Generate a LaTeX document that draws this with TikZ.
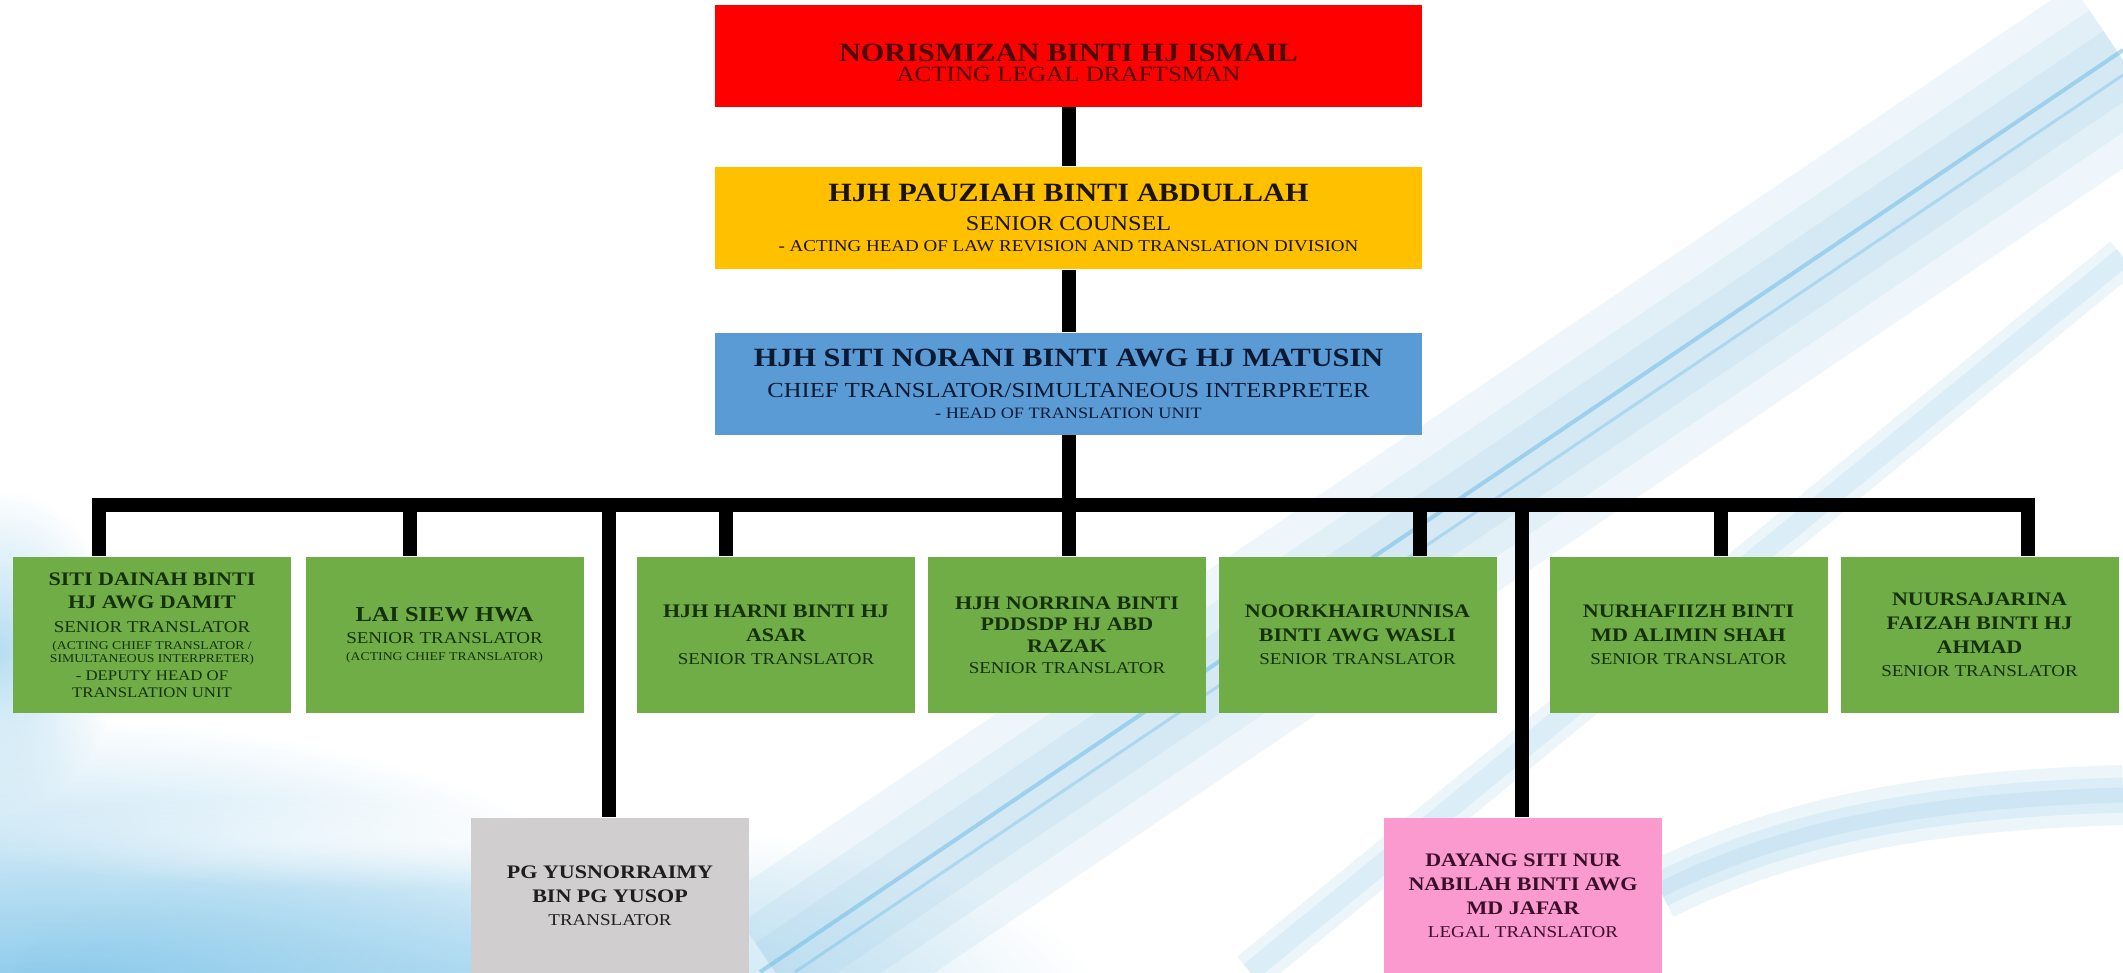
\documentclass[tikz,border=0pt]{standalone}
\usepackage{fontspec}
\setmainfont[FakeStretch=1.15]{Liberation Serif}
\usetikzlibrary{calc,fadings}
\definecolor{draftred}{HTML}{FF0000}
\definecolor{counselorange}{HTML}{FFC000}
\definecolor{chiefblue}{HTML}{5B9BD5}
\definecolor{seniorgreen}{HTML}{70AD47}
\definecolor{transgrey}{HTML}{D0CECE}
\definecolor{legalpink}{HTML}{FB9ACF}
\definecolor{redtext}{HTML}{4A0808}
\definecolor{orangetext}{HTML}{1A1400}
\definecolor{bluetext}{HTML}{0B1A33}
\definecolor{greentext}{HTML}{15300B}
\definecolor{greytext}{HTML}{1E1E1E}
\definecolor{pinktext}{HTML}{3A0F2A}
\definecolor{sky}{HTML}{6FBDE6}
\definecolor{streak}{HTML}{9CCDE8}
\tikzfading[name=softglow, inner color=transparent!0, outer color=transparent!100]
\newcommand{\headname}[1]{{\fontsize{7.5pt}{8pt}\selectfont\bfseries #1}}
\newcommand{\staffname}[1]{{\fontsize{5.45pt}{6.7pt}\selectfont\bfseries #1}}
\newcommand{\smallnote}[1]{{\fontsize{3.4pt}{4pt}\selectfont #1}}
\newcommand{\deputy}[1]{{\fontsize{4.15pt}{5pt}\selectfont #1}}
\tikzset{
  post/.style={inner sep=0pt, align=center},
  headpost/.style={post, minimum width=7.07cm, minimum height=1.02cm},
  staffpost/.style={post, minimum width=2.78cm, minimum height=1.56cm,
    font=\fontsize{4.7pt}{6.7pt}\selectfont},
  senior/.style={staffpost, fill=seniorgreen, text=greentext},
  link/.style={line width=0.14cm, draw=black},
  glow/.style={fill=sky, path fading=softglow}
}
\begin{document}
\begin{tikzpicture}
% page and background
\clip (0,0) rectangle (21.23,-9.72);
\fill[white] (0,0) rectangle (21.23,-9.72);
\fill[glow, opacity=0.5] (0,-6.5) ellipse (1.2 and 1.6);
\fill[glow, opacity=0.9] (0.5,-10.2) ellipse (6.5 and 3.0);
\fill[glow, opacity=0.5] (5.5,-10.1) ellipse (5.5 and 1.9);
\fill[white, path fading=softglow, opacity=0.7] (4.5,-8.4) ellipse (5.0 and 0.5);
\foreach \w in {1.8,1.2,0.7} {
  \draw[streak, line width=\w cm, opacity=0.16] (7.75,-9.72) -- (21.23,-0.6);
}
\draw[sky, line width=0.04cm, opacity=0.55] (7.6,-9.72) -- (21.23,-0.5);
\draw[sky, line width=0.03cm, opacity=0.4] (7.95,-9.72) -- (21.23,-0.75);
\foreach \w in {0.4,0.2} {
  \draw[streak, line width=\w cm, opacity=0.2] (12.5,-9.72) -- (21.23,-2.57);
}
\foreach \w in {0.6,0.35,0.15} {
  \draw[streak, line width=\w cm, opacity=0.2] (16.6,-8.9) .. controls (18,-8.2) and (19.5,-8.0) .. (21.23,-7.95);
}

% top of the chart
\node[headpost, fill=draftred, text=redtext, font=\fontsize{6.2pt}{5.7pt}\selectfont] (draftsman) at (10.685,-0.555)
  {\rule{0pt}{9pt}\headname{NORISMIZAN BINTI HJ ISMAIL}\\ACTING LEGAL DRAFTSMAN};
\node[headpost, fill=counselorange, text=orangetext, font=\fontsize{6pt}{8pt}\selectfont] (counsel) at (10.685,-2.18)
  {\headname{HJH PAUZIAH BINTI ABDULLAH}\\SENIOR COUNSEL\\[-2pt]{\fontsize{4.7pt}{5pt}\selectfont - ACTING HEAD OF LAW REVISION AND TRANSLATION DIVISION}};
\node[headpost, fill=chiefblue, text=bluetext, font=\fontsize{6.1pt}{8.8pt}\selectfont] (chief) at (10.685,-3.835)
  {\headname{HJH SITI NORANI BINTI AWG HJ MATUSIN}\\CHIEF TRANSLATOR/SIMULTANEOUS INTERPRETER\\[-2.8pt]{\fontsize{4.5pt}{5pt}\selectfont - HEAD OF TRANSLATION UNIT}};

% senior translators
\node[senior] (senior1) at (1.52,-6.35)
  {\staffname{SITI DAINAH BINTI}\\\staffname{HJ AWG DAMIT}\\SENIOR TRANSLATOR\\[-1.9pt]\smallnote{(ACTING CHIEF TRANSLATOR /}\\[-3pt]\smallnote{SIMULTANEOUS INTERPRETER)}\\[-1.6pt]\deputy{- DEPUTY HEAD OF}\\[-1.9pt]\deputy{TRANSLATION UNIT}};
\node[senior] (senior2) at (4.445,-6.35)
  {{\fontsize{6.05pt}{7pt}\selectfont\bfseries LAI SIEW HWA}\\[-0.4pt]SENIOR TRANSLATOR\\[-1.9pt]\smallnote{(ACTING CHIEF TRANSLATOR)}};
\node[senior] (senior3) at (7.76,-6.35)
  {\staffname{HJH HARNI BINTI HJ}\\\staffname{ASAR}\\SENIOR TRANSLATOR};
\node[senior] (senior4) at (10.67,-6.35)
  {\staffname{HJH NORRINA BINTI}\\[-0.6pt]\staffname{PDDSDP HJ ABD}\\[-0.6pt]\staffname{RAZAK}\\[-0.6pt]SENIOR TRANSLATOR};
\node[senior] (senior5) at (13.575,-6.35)
  {\staffname{NOORKHAIRUNNISA}\\\staffname{BINTI AWG WASLI}\\SENIOR TRANSLATOR};
\node[senior] (senior6) at (16.885,-6.35)
  {\staffname{NURHAFIIZH BINTI}\\\staffname{MD ALIMIN SHAH}\\SENIOR TRANSLATOR};
\node[senior] (senior7) at (19.795,-6.35)
  {\staffname{NUURSAJARINA}\\\staffname{FAIZAH BINTI HJ}\\\staffname{AHMAD}\\SENIOR TRANSLATOR};

% bottom row
\node[staffpost, fill=transgrey, text=greytext] (translator) at (6.10,-8.96)
  {\staffname{PG YUSNORRAIMY}\\\staffname{BIN PG YUSOP}\\TRANSLATOR};
\node[staffpost, fill=legalpink, text=pinktext] (legal) at (15.23,-8.96)
  {\staffname{DAYANG SITI NUR}\\\staffname{NABILAH BINTI AWG}\\\staffname{MD JAFAR}\\LEGAL TRANSLATOR};

% connectors
\coordinate (t1) at (0.99,-5.05);
\coordinate (t2) at (4.10,-5.05);
\coordinate (t3) at (6.09,-5.05);
\coordinate (t4) at (7.26,-5.05);
\coordinate (t5) at (10.685,-5.05);
\coordinate (t6) at (14.20,-5.05);
\coordinate (t7) at (15.22,-5.05);
\coordinate (t8) at (17.21,-5.05);
\coordinate (t9) at (20.28,-5.05);
\draw[link] (draftsman.south) -- (counsel.north);
\draw[link] (counsel.south) -- (chief.north);
\draw[link] (chief.south) -- (t5);
\draw[link, line join=miter] (t1 |- senior1.north) -- (t1) -- (t9) -- (t9 |- senior7.north);
\foreach \t/\s in {t2/senior2, t4/senior3, t5/senior4, t6/senior5, t8/senior6}
  \draw[link] (\t) -- (\t |- \s.north);
\draw[link] (t3) -- (t3 |- translator.north);
\draw[link] (t7) -- (t7 |- legal.north);
\end{tikzpicture}
\end{document}
